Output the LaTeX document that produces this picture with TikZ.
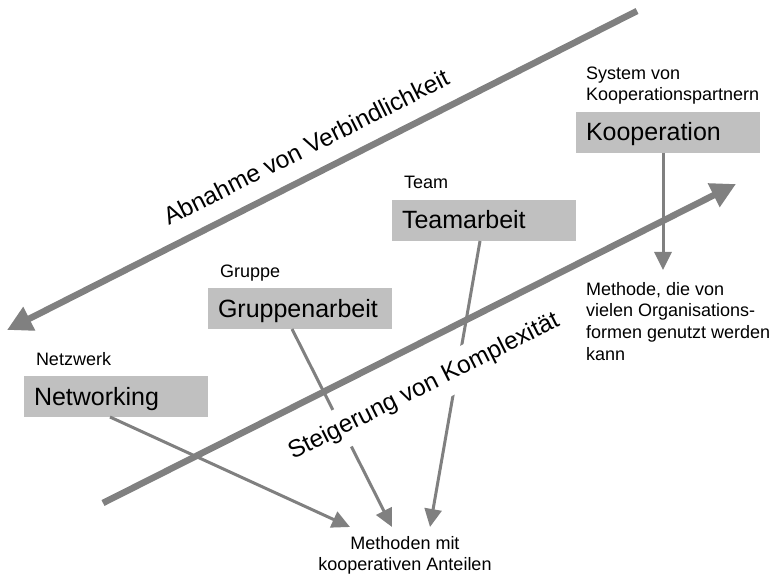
\documentclass[tikz,border=0pt]{standalone}
\usepackage{fontspec}
\setmainfont{Liberation Sans}
\usepackage{xcolor}
\usepackage{tikz}
\usetikzlibrary{arrows.meta, positioning, calc}
\definecolor{boxgray}{RGB}{192,192,192}
\definecolor{linegray}{RGB}{128,128,128}

\begin{document}
\begin{tikzpicture}[
    x=1pt, y=-1pt,
    box/.style={fill=boxgray, minimum height=41pt, text width=164pt, inner xsep=10pt, inner ysep=0pt, outer sep=0pt, align=left, text height=20pt, text depth=3pt, font=\fontsize{25}{30}\selectfont},
    lbl/.style={inner sep=0pt, outer sep=0pt, align=left, text depth=4pt, font=\fontsize{18}{21.8}\selectfont},
    slope/.style={rotate=26.7, inner xsep=4pt, inner ysep=9pt, font=\fontsize{24.5}{29}\selectfont},
    arrow/.style={draw=linegray, line width=3pt, -{Triangle[length=18pt, width=17pt]}},
    bigarrow/.style={draw=linegray, line width=6.5pt, -{Triangle[length=25pt, width=25pt]}},
    node distance=47pt and 0pt
]
\useasboundingbox (0,0) rectangle (776,577);

\coordinate (abstart) at (637,11);
\coordinate (abend) at (7,330);
\draw[bigarrow] (abstart) -- (abend);
\node[slope] (ablbl) at (306,147) {Abnahme von Verbindlichkeit};

\coordinate (ststart) at (103,503);
\coordinate (stend) at (736,184);
\draw[bigarrow] (ststart) -- (stend);

\node[box, anchor=north west] (net) at (24,376) {Networking};
\node[box, above right=of net] (grp) {Gruppenarbeit};
\node[box, above right=of grp] (team) {Teamarbeit};
\node[box, above right=of team] (koop) {Kooperation};

\node[lbl, above right=7pt and 12pt of net.north west] (netlbl) {Netzwerk};
\node[lbl, above right=7pt and 12pt of grp.north west] (grplbl) {Gruppe};
\node[lbl, above right=7pt and 12pt of team.north west] (teamlbl) {Team};
\node[lbl, above right=7pt and 10pt of koop.north west] (kooplbl) {System von\\Kooperationspartnern};

\node[lbl, inner ysep=12pt, below right=117pt and 10pt of koop.south west] (desc) {Methode, die von\\vielen Organisations-\\formen genutzt werden\\kann};
\node[lbl, align=center, inner ysep=9pt, anchor=north] (meth) at (405,527) {Methoden mit\\kooperativen Anteilen};

\draw[arrow] ([xshift=-6pt]net.south) -- ([xshift=-55pt]meth.north);
\draw[arrow] ([xshift=-8pt]grp.south) -- ([xshift=-13pt]meth.north);
\draw[arrow] ([xshift=-4pt]team.south) -- ([xshift=25pt]meth.north);
\draw[arrow] ([xshift=-5pt]koop.south) -- ([xshift=-5pt]koop.south |- desc.north);

\node[slope, fill=white] (stlbl) at (424,387) {Steigerung von Komplexität};

\end{tikzpicture}
\end{document}
